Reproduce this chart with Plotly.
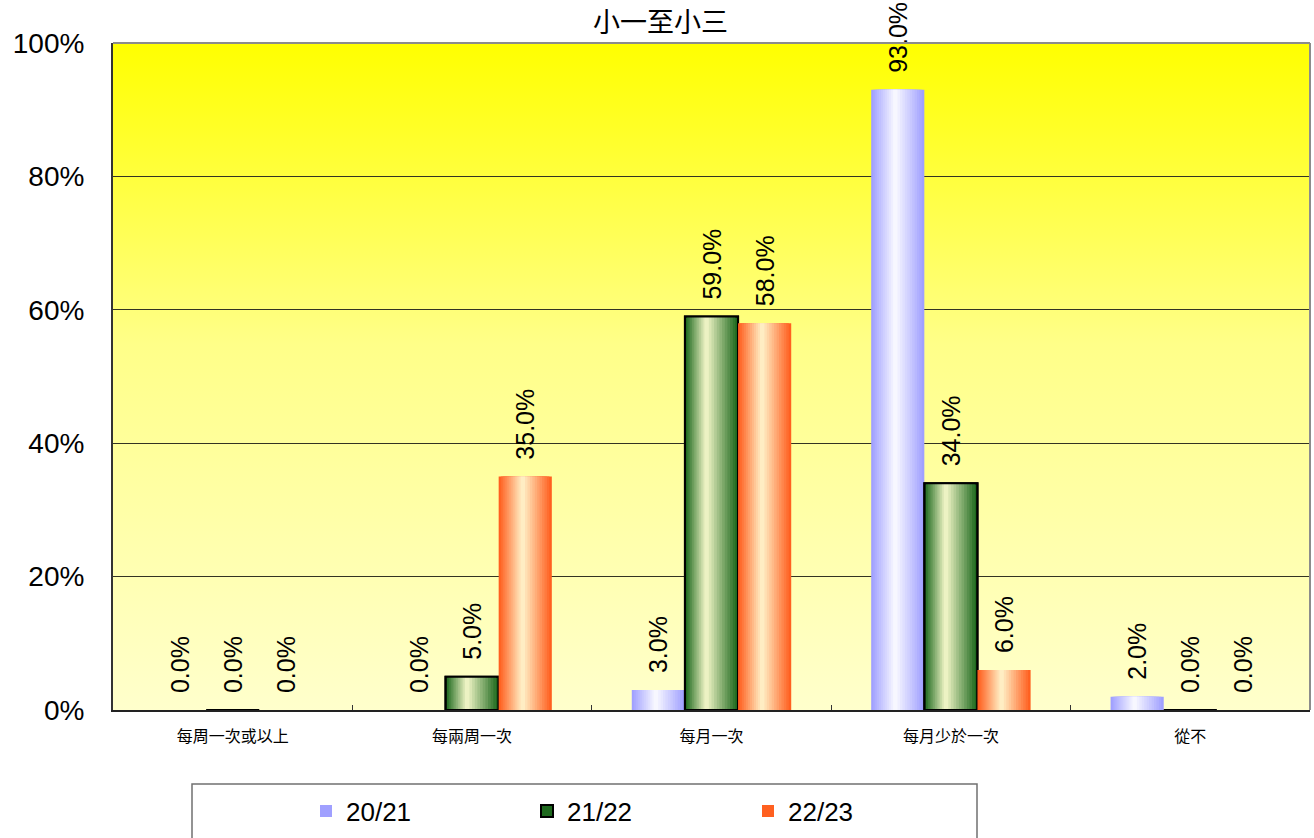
import plotly.graph_objects as go
import base64

# ---------------- data ----------------
categories = ["每周一次或以上", "每兩周一次", "每月一次", "每月少於一次", "從不"]
series_names = ["20/21", "21/22", "22/23"]
values_2021 = [0.0, 0.0, 0.03, 0.93, 0.02]
values_2122 = [0.0, 0.05, 0.59, 0.34, 0.0]
values_2223 = [0.0, 0.35, 0.58, 0.06, 0.0]
y_tick_vals = [0, 0.2, 0.4, 0.6, 0.8, 1.0]
y_tick_text = ["0%", "20%", "40%", "60%", "80%", "100%"]
title_text = "小一至小三"

# ---------------- style ----------------
W, H = 1314, 838
ML, MR, MT, MB = 113, 4, 43, 128
BAR_W = 0.222
NLAYERS = 12
series_style = [
    dict(edge=(160, 160, 255), center=(255, 255, 255), peak=0.45, line=None),
    dict(edge=(30, 105, 30), center=(255, 255, 210), peak=0.40, line="black"),
    dict(edge=(255, 96, 32), center=(255, 250, 210), peak=0.45, line=None),
]
all_values = [values_2021, values_2122, values_2223]
font_latin = "Arial, 'Liberation Sans', sans-serif"
font_cjk = "'Noto Sans CJK TC', 'Noto Sans CJK SC', sans-serif"
PAD = "\u00a0\u00a0"


def mix(a, b, t):
    return "rgb(%d,%d,%d)" % tuple(round(a[i] + (b[i] - a[i]) * t) for i in range(3))


fig = go.Figure()
for s, (name, vals, st) in enumerate(zip(series_names, all_values, series_style)):
    left = (s - 1.5) * BAR_W
    for k in range(NLAYERS):
        t = k / NLAYERS
        l = left + t * st["peak"] * BAR_W
        r = left + BAR_W - t * (1 - st["peak"]) * BAR_W
        first = k == 0
        fig.add_trace(go.Bar(
            x=categories, y=vals, name=name,
            offset=l, width=r - l,
            marker=dict(color=mix(st["edge"], st["center"], t),
                        line=dict(width=2 if (first and st["line"]) else 0,
                                  color=st["line"] or "rgba(0,0,0,0)")),
            showlegend=first, legendgroup=name,
            text=[PAD + f"{v*100:.1f}%" for v in vals] if first else None,
            textposition="outside" if first else "none",
            textangle=-90, constraintext="none",
            textfont=dict(family=font_latin, size=25, color="black"),
            cliponaxis=False,
            hoverinfo="x+y" if first else "skip",
        ))
    if st["line"]:
        fig.add_trace(go.Bar(
            x=categories, y=[v if v > 0 else None for v in vals],
            offset=left, width=BAR_W,
            marker=dict(color="rgba(0,0,0,0)", line=dict(width=2, color=st["line"])),
            showlegend=False, hoverinfo="skip", legendgroup=name,
        ))

# gradient background as SVG image
svg = ('<svg xmlns="http://www.w3.org/2000/svg" width="10" height="100" preserveAspectRatio="none">'
       '<defs><linearGradient id="g" x1="0" y1="0" x2="0" y2="1">'
       '<stop offset="0" stop-color="#FFFF00"/>'
       '<stop offset="0.45" stop-color="#FFFF88"/>'
       '<stop offset="1" stop-color="#FFFFCC"/>'
       '</linearGradient></defs><rect width="10" height="100" fill="url(#g)"/></svg>')
svg_uri = "data:image/svg+xml;base64," + base64.b64encode(svg.encode()).decode()

plot_w = W - ML - MR
plot_h = H - MT - MB


def px_x(p):
    return (p - ML) / plot_w


def px_y(p):
    return (H - MB - p) / plot_h


fig.update_layout(
    width=W, height=H,
    margin=dict(l=ML, r=MR, t=MT, b=MB, pad=0, autoexpand=False),
    paper_bgcolor="white", plot_bgcolor="#FFFFCC",
    barmode="overlay",
    showlegend=True,
    images=[dict(source=svg_uri, xref="paper", yref="paper", x=0, y=1,
                 sizex=1, sizey=1, sizing="stretch", layer="below",
                 xanchor="left", yanchor="top")],
    legend=dict(orientation="h", x=px_x(306), xanchor="left",
                y=px_y(811), yanchor="middle",
                font=dict(family=font_latin, size=26, color="black"),
                itemwidth=30, entrywidth=176, bgcolor="rgba(0,0,0,0)",
                borderwidth=0, traceorder="normal"),
    shapes=[
        dict(type="rect", xref="paper", yref="paper",
             x0=px_x(192), x1=px_x(977), y0=px_y(845), y1=px_y(784),
             line=dict(color="#707070", width=1.5), fillcolor="rgba(0,0,0,0)"),
        dict(type="line", xref="paper", yref="paper", x0=0, x1=1, y0=1, y1=1,
             line=dict(color="#8C8C8C", width=2)),
        dict(type="line", xref="paper", yref="paper", x0=1, x1=1, y0=0, y1=1,
             line=dict(color="#8C8C8C", width=2)),
    ],
    annotations=[dict(text=title_text, xref="paper", yref="paper",
                      x=px_x(660), y=px_y(21), xanchor="center", yanchor="middle",
                      showarrow=False,
                      font=dict(family=font_cjk, size=27, color="black"))],
    hovermode="closest",
)
fig.update_xaxes(
    type="category", categoryorder="array", categoryarray=categories,
    range=[-0.5, len(categories) - 0.5], automargin=False,
    showgrid=False, showline=True, linecolor="#222222", linewidth=2,
    ticks="inside", tickson="boundaries", ticklen=5, tickcolor="#333333",
    tickfont=dict(family=font_cjk, size=16, color="black"),
    ticklabelstandoff=11, layer="above traces",
)
fig.update_yaxes(
    range=[0, 1.0], tickvals=y_tick_vals, ticktext=y_tick_text,
    automargin=False,
    showgrid=True, gridcolor="#333322", gridwidth=1,
    showline=True, linecolor="#333333", linewidth=2,
    zeroline=False, ticks="",
    tickfont=dict(family=font_latin, size=28, color="black"),
    ticklabelstandoff=21,
)

fig.write_html("out.html", config={"displayModeBar": False},
               post_script="document.body.style.margin='0';document.body.style.overflow='hidden';")
